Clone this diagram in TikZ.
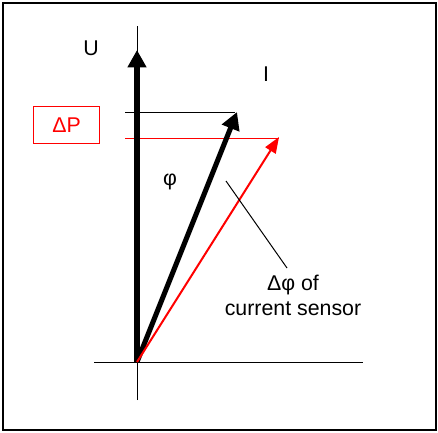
\documentclass[tikz,border=0pt]{standalone}
\usepackage{fontspec}
\setmainfont{Liberation Sans}
\usepackage{xcolor}
\usetikzlibrary{arrows.meta}
\definecolor{sensred}{HTML}{FF0000}

\begin{document}
\begin{tikzpicture}[x=0.75pt,y=-0.75pt,
lbl/.style={font=\fontsize{16}{18.75}\selectfont,inner sep=0pt},
axis/.style={line width=0.75pt},
vec/.style={line width=3.8pt,-{Triangle[length=13pt,width=13.5pt]}},
vecs/.style={line width=1.5pt,color=sensred,-{Triangle[length=12pt,width=9pt]}}
]
\useasboundingbox (0,0) rectangle (438,432);
\draw[line width=1.5pt] (3,3) rectangle (436,430);
% axes
\coordinate (o) at (137,362);
\coordinate (axl) at (94,362);
\coordinate (axr) at (363,362);
\coordinate (axb) at (137,400);
\coordinate (axt) at (137,26);
\draw[axis] (axl)--(axr);
\draw[axis] (axb)--(axt);
% phasors
\coordinate (utip) at (137,50);
\coordinate (itip) at (237,112);
\coordinate (stip) at (279,137);
\draw[axis] (125,112)--(235,112);
\draw[axis,color=sensred] (125,138)--(279,138);
\draw[vec] (o)--(utip);
\draw[vec] (o)--(itip);
\draw[vecs] (o)--(stip);
\node[lbl] (u) at (91,48) {U};
\node[lbl] (i) at (266,74) {I};
\node[lbl] (phi) at (170,182) {φ};
\node[lbl,draw=sensred,text=sensred,line width=0.75pt,minimum width=50pt,minimum height=27.5pt] (dp) at (66.5,125) {ΔP};
% leader to the sensor note
\node[lbl,align=center] (sens) at (293,295) {Δφ of\\current sensor};
\coordinate (lead) at (226,181);
\coordinate (leadend) at (287,268);
\draw[axis] (lead)--(leadend);
\end{tikzpicture}
\end{document}
